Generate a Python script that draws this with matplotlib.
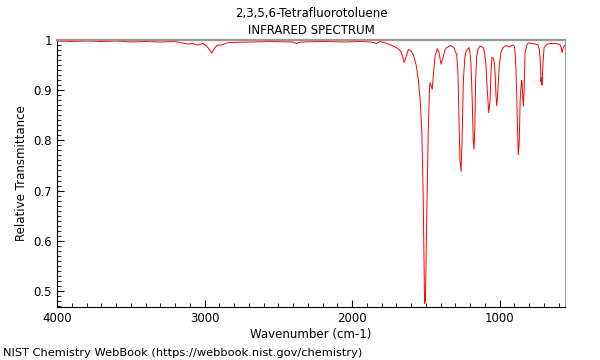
import matplotlib
matplotlib.use("Agg")
import matplotlib.pyplot as plt
from matplotlib.ticker import MultipleLocator

title = "2,3,5,6-Tetrafluorotoluene\nINFRARED SPECTRUM"
x_label = "Wavenumber (cm-1)"
y_label = "Relative Transmittance"
footer = "NIST Chemistry WebBook (https://webbook.nist.gov/chemistry)"

# wavenumber (cm-1)
wavenumber = [
    4000, 3900, 3800, 3700, 3600, 3500, 3400, 3300, 3200, 3150, 3110, 3080,
    3045, 3010, 2985, 2965, 2951, 2940, 2920, 2906, 2883, 2860, 2830, 2700,
    2550, 2400, 2377, 2350, 2200, 2050, 1950, 1870, 1835, 1810, 1760, 1700,
    1670, 1655, 1647, 1638, 1618, 1600, 1584, 1565, 1550, 1538, 1527, 1518,
    1512, 1508, 1502, 1495, 1483, 1475, 1471, 1463, 1456, 1447, 1437, 1422,
    1410, 1397, 1385, 1370, 1358, 1331, 1310, 1290, 1282, 1275, 1268, 1261,
    1254, 1245, 1235, 1227, 1207, 1200, 1193, 1185, 1178, 1173, 1167, 1162,
    1155, 1145, 1132, 1110, 1100, 1092, 1083, 1073, 1064, 1057, 1051, 1044,
    1037, 1030, 1024, 1019, 1013, 1001, 990, 978, 956, 933, 911, 900,
    895, 888, 880, 873, 866, 860, 856, 850, 847, 843, 838, 833,
    827, 815, 805, 780, 755, 740, 730, 722, 719, 716, 712, 706,
    698, 680, 658, 620, 590, 582, 576, 568, 556,
]
transmittance = [
    0.998, 0.997, 0.998, 0.997, 0.998, 0.996, 0.997, 0.996, 0.997, 0.994, 0.992, 0.993,
    0.990, 0.993, 0.988, 0.980, 0.974, 0.980, 0.988, 0.990, 0.990, 0.993, 0.995, 0.996,
    0.997, 0.996, 0.993, 0.996, 0.997, 0.996, 0.997, 0.996, 0.993, 0.997, 0.993, 0.985,
    0.978, 0.965, 0.955, 0.962, 0.981, 0.978, 0.970, 0.950, 0.920, 0.880, 0.820, 0.700,
    0.560, 0.475, 0.480, 0.620, 0.820, 0.900, 0.915, 0.908, 0.902, 0.935, 0.967, 0.983,
    0.975, 0.952, 0.962, 0.980, 0.985, 0.989, 0.985, 0.970, 0.935, 0.850, 0.760, 0.738,
    0.800, 0.920, 0.965, 0.978, 0.985, 0.975, 0.950, 0.880, 0.800, 0.782, 0.830, 0.920,
    0.966, 0.982, 0.988, 0.985, 0.972, 0.950, 0.900, 0.855, 0.880, 0.940, 0.965, 0.965,
    0.958, 0.935, 0.890, 0.869, 0.890, 0.950, 0.975, 0.984, 0.989, 0.986, 0.990, 0.988,
    0.978, 0.940, 0.850, 0.771, 0.800, 0.880, 0.900, 0.920, 0.915, 0.890, 0.868, 0.900,
    0.973, 0.990, 0.994, 0.993, 0.992, 0.990, 0.982, 0.950, 0.917, 0.925, 0.910, 0.950,
    0.985, 0.991, 0.993, 0.993, 0.991, 0.985, 0.975, 0.985, 0.990,
]

fig = plt.figure(figsize=(6, 3.6), dpi=100)
ax = fig.add_axes([57 / 600, 1 - 307 / 360, 508 / 600, 267 / 360])

ax.plot(wavenumber, transmittance, color="red", linewidth=0.7)

ax.set_xlim(4000, 556)
ax.set_ylim(0.468, 1.0)
ax.xaxis.set_major_locator(MultipleLocator(1000))
ax.xaxis.set_minor_locator(MultipleLocator(100))
ax.yaxis.set_minor_locator(MultipleLocator(0.01))
ax.set_yticks([0.5, 0.6, 0.7, 0.8, 0.9, 1.0])
ax.set_yticklabels(["0.5", "0.6", "0.7", "0.8", "0.9", "1"])
ax.tick_params(which="both", direction="in", labelsize=8.5)
ax.tick_params(which="major", length=5)
ax.tick_params(which="minor", length=3)
ax.tick_params(top=False, right=False)

for side in ("top", "right"):
    ax.spines[side].set_color("#999999")
ax.spines["top"].set_linewidth(1.6)

ax.set_xlabel(x_label, fontsize=8.5, labelpad=2)
ax.set_ylabel(y_label, fontsize=8.5)
ax.set_title(title, fontsize=8.5, pad=4, linespacing=1.45)
fig.text(3 / 600, 1 - 353 / 360, footer, fontsize=8.2, va="center", ha="left")

fig.savefig("out.png", dpi=100)
